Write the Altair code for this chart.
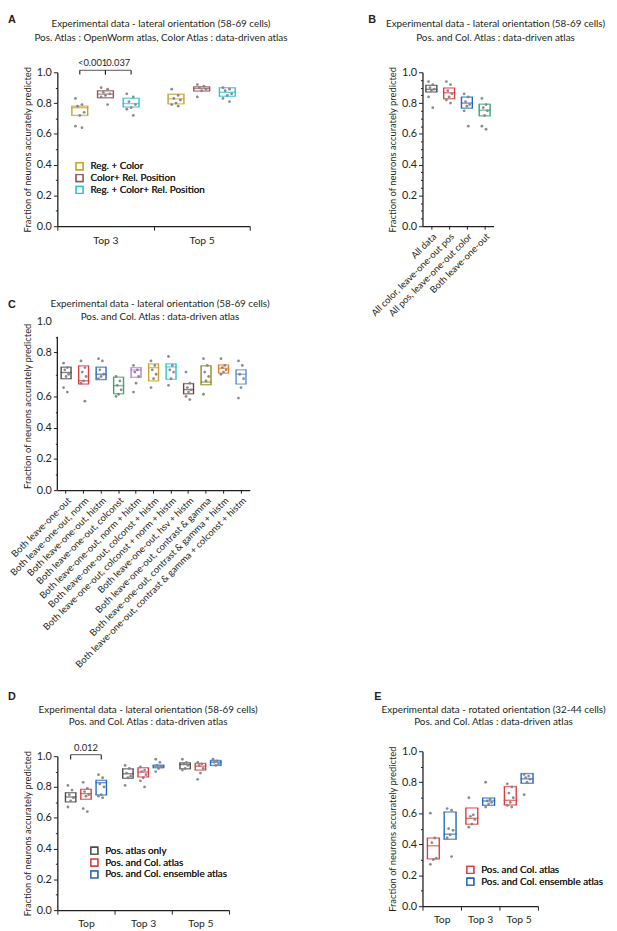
import altair as alt
import pandas as pd

FONT = "Lato"
INK = "#231f20"
DOTC = "#808080"
YTITLE = "Fraction of neurons accurately predicted"

# ---------------- Panel A ----------------
A_TITLE = ["Experimental data - lateral orientation (58-69 cells)",
           "Pos. Atlas : OpenWorm atlas, Color Atlas : data-driven atlas"]
A_CATS = ["Top 3", "Top 5"]
A_GROUPS = ["Reg. + Color", "Color+ Rel. Position", "Reg. + Color+ Rel. Position"]
A_COLORS = ["#c9a227", "#8b5a5c", "#2cc3d3"]
A_Q1 = [[0.720, 0.835, 0.774], [0.795, 0.878, 0.844]]
A_MED = [[0.770, 0.858, 0.797], [0.827, 0.895, 0.870]]
A_Q3 = [[0.780, 0.880, 0.831], [0.857, 0.906, 0.900]]
A_DOTS_TOP3 = [[0.83, 0.79, 0.78, 0.74, 0.72, 0.65, 0.64],
               [0.90, 0.89, 0.87, 0.86, 0.85, 0.84, 0.79],
               [0.86, 0.84, 0.81, 0.79, 0.77, 0.76, 0.72]]
A_DOTS_TOP5 = [[0.89, 0.85, 0.83, 0.82, 0.80, 0.79, 0.78],
               [0.92, 0.91, 0.90, 0.89, 0.88, 0.84],
               [0.90, 0.89, 0.88, 0.86, 0.85, 0.83, 0.81]]
A_BR_CAT = ["Top 3", "Top 3"]
A_BR_G1 = [0, 1]
A_BR_G2 = [1, 2]
A_BR_P = ["<0.001", "0.037"]

# ---------------- Panel B ----------------
B_TITLE = ["Experimental data - lateral orientation (58-69 cells)",
           "Pos.  and Col. Atlas : data-driven atlas"]
B_CATS = ["All data", "All color, leave-one-out pos", "All pos, leave-one-out color", "Both leave-one-out"]
B_COLORS = ["#4d4d4d", "#e03c3f", "#2266c4", "#2fa86a"]
B_Q1 = [0.872, 0.828, 0.767, 0.717]
B_MED = [0.889, 0.867, 0.800, 0.754]
B_Q3 = [0.915, 0.898, 0.839, 0.793]
B_DOTS = [[0.94, 0.92, 0.90, 0.89, 0.88, 0.84, 0.77],
          [0.94, 0.92, 0.88, 0.86, 0.84, 0.82, 0.80],
          [0.86, 0.84, 0.81, 0.79, 0.78, 0.75, 0.65],
          [0.83, 0.79, 0.77, 0.75, 0.72, 0.65, 0.63]]

# ---------------- Panel C ----------------
C_TITLE = ["Experimental data - lateral orientation (58-69 cells)",
           "Pos.  and Col. Atlas : data-driven atlas"]
C_CATS = ["Both leave-one-out", "Both leave-one-out, norm", "Both leave-one-out, histm",
          "Both leave-one-out, colconst", "Both leave-one-out, norm + histm",
          "Both leave-one-out, colconst + histm", "Both leave-one-out, colconst + norm + histm",
          "Both leave-one-out, hsv + histm", "Both leave-one-out, contrast & gamma",
          "Both leave-one-out, contrast & gamma + histm",
          "Both leave-one-out, contrast & gamma + colconst + histm"]
C_COLORS = ["#4d4d4d", "#e03c3f", "#2266c4", "#2fa86a", "#b57be0", "#c9a227",
            "#2cc3d3", "#6e4343", "#8c8a1c", "#f07a22", "#5a8fd4"]
C_Q1 = [0.680, 0.656, 0.676, 0.612, 0.686, 0.670, 0.677, 0.612, 0.653, 0.705, 0.656]
C_MED = [0.708, 0.671, 0.700, 0.649, 0.719, 0.730, 0.733, 0.631, 0.665, 0.727, 0.700]
C_Q3 = [0.732, 0.738, 0.732, 0.687, 0.730, 0.747, 0.747, 0.658, 0.738, 0.742, 0.720]
C_DOTS = [[0.75, 0.73, 0.72, 0.70, 0.69, 0.64, 0.62],
          [0.76, 0.73, 0.71, 0.69, 0.67, 0.66, 0.57],
          [0.77, 0.76, 0.72, 0.70, 0.69, 0.68],
          [0.69, 0.67, 0.65, 0.63, 0.61, 0.60],
          [0.74, 0.72, 0.71, 0.69, 0.66, 0.62],
          [0.76, 0.74, 0.72, 0.70, 0.68, 0.64],
          [0.78, 0.74, 0.72, 0.71, 0.68, 0.65],
          [0.71, 0.66, 0.64, 0.63, 0.62, 0.60, 0.58],
          [0.77, 0.74, 0.71, 0.69, 0.67, 0.61],
          [0.77, 0.74, 0.73, 0.72, 0.71, 0.70],
          [0.76, 0.74, 0.70, 0.68, 0.64, 0.59]]

# ---------------- Panel D ----------------
D_TITLE = ["Experimental data - lateral orientation (58-69 cells)",
           "Pos. and Col. Atlas : data-driven atlas"]
D_CATS = ["Top", "Top 3", "Top 5"]
D_GROUPS = ["Pos. atlas only", "Pos. and Col. atlas", "Pos. and Col. ensemble atlas"]
D_COLORS = ["#4d4d4d", "#e03c3f", "#2266c4"]
D_Q1 = [[0.703, 0.720, 0.748], [0.856, 0.865, 0.925], [0.918, 0.910, 0.940]]
D_MED = [[0.735, 0.757, 0.828], [0.886, 0.897, 0.935], [0.946, 0.935, 0.961]]
D_Q3 = [[0.763, 0.785, 0.843], [0.918, 0.925, 0.942], [0.957, 0.953, 0.972]]
D_DOTS_TOP = [[0.81, 0.78, 0.75, 0.73, 0.71, 0.67],
              [0.83, 0.79, 0.77, 0.75, 0.74, 0.66, 0.64],
              [0.88, 0.86, 0.82, 0.80, 0.75, 0.74, 0.73]]
D_DOTS_TOP3 = [[0.94, 0.92, 0.89, 0.87, 0.86, 0.81],
               [0.93, 0.91, 0.90, 0.88, 0.86, 0.84, 0.80],
               [0.98, 0.96, 0.94, 0.93, 0.92, 0.90]]
D_DOTS_TOP5 = [[0.98, 0.96, 0.95, 0.94, 0.92, 0.91],
               [0.96, 0.95, 0.94, 0.92, 0.89, 0.85],
               [0.98, 0.97, 0.96, 0.95, 0.94]]
D_BR_CAT = ["Top"]
D_BR_G1 = [0]
D_BR_G2 = [2]
D_BR_P = ["0.012"]

# ---------------- Panel E ----------------
E_TITLE = ["Experimental data - rotated orientation (32-44 cells)",
           "Pos. and Col. Atlas : data-driven atlas"]
E_CATS = ["Top", "Top 3", "Top 5"]
E_GROUPS = ["Pos. and Col. atlas", "Pos. and Col. ensemble atlas"]
E_COLORS = ["#e03c3f", "#2266c4"]
E_Q1 = [[0.305, 0.432], [0.529, 0.651], [0.653, 0.793]]
E_MED = [[0.390, 0.465], [0.567, 0.679], [0.683, 0.822]]
E_Q3 = [[0.440, 0.608], [0.634, 0.698], [0.772, 0.856]]
E_DOTS_TOP = [[0.60, 0.44, 0.41, 0.31, 0.30, 0.27],
              [0.63, 0.62, 0.50, 0.49, 0.46, 0.44, 0.32]]
E_DOTS_TOP3 = [[0.70, 0.59, 0.58, 0.56, 0.53, 0.51],
               [0.80, 0.69, 0.68, 0.67, 0.66, 0.64]]
E_DOTS_TOP5 = [[0.79, 0.77, 0.73, 0.70, 0.67, 0.65, 0.64],
               [0.85, 0.84, 0.83, 0.82, 0.80, 0.72]]


def grouped_tables(cats, groups, q1, med, q3, dots):
    brow, drow = [], []
    for ci, c in enumerate(cats):
        for gi, g in enumerate(groups):
            brow.append({"cat": c, "grp": g, "g": gi, "lo": q1[ci][gi], "med": med[ci][gi], "hi": q3[ci][gi]})
            for i, v in enumerate(dots[ci][gi]):
                drow.append({"cat": c, "grp": g, "g": gi, "i": i, "v": v})
    return pd.DataFrame(brow), pd.DataFrame(drow)


def single_tables(cats, q1, med, q3, dots):
    brow, drow = [], []
    for ci, c in enumerate(cats):
        brow.append({"cat": c, "grp": c, "g": 0, "lo": q1[ci], "med": med[ci], "hi": q3[ci]})
        for i, v in enumerate(dots[ci]):
            drow.append({"cat": c, "grp": c, "g": 0, "i": i, "v": v})
    return pd.DataFrame(brow), pd.DataFrame(drow)


def y_axis(div, major, domain=True, hide_top=False):
    vals = [round(k / div, 4) for k in range(div + 1)]
    test = f"round(datum.value*{div}) % {major} == 0"
    kw = dict(values=vals,
              labelExpr=f"({test}) ? format(datum.value, '.1f') : ''",
              tickSize={"condition": {"test": test, "value": 4}, "value": 2},
              labelOverlap=False, labelFontSize=11,
              domain=domain, title=YTITLE)
    if hide_top:
        kw["tickOpacity"] = {"condition": {"test": "datum.value > 0.95", "value": 0}, "value": 1}
    return alt.Axis(**kw)


def text_layer(txt, x, y, **kw):
    return alt.Chart(pd.DataFrame({"t": [txt]})).mark_text(**kw).encode(
        text="t:N", x=alt.value(x), y=alt.value(y))


def title_layers(lines, cx, y1, y2, letter, lx, ly):
    return [
        text_layer(lines[0], cx, y1, font=FONT, fontSize=10, color=INK, align="center", baseline="middle"),
        text_layer(lines[1], cx, y2, font=FONT, fontSize=10, color=INK, align="center", baseline="middle"),
        text_layer(letter, lx, ly, font="Liberation Sans", fontSize=11, fontWeight="bold", color=INK,
                   align="left", baseline="top"),
    ]


def panel(box_df, dot_df, cats, grp_domain, colors, W, H, yscale, yaxis, xaxis,
          ngroups, gap, boxw, jit, legend=None, extra=None, brackets=None):
    band = W / len(cats)
    center = f"({band / 2} + (datum.g - {(ngroups - 1) / 2}) * {gap})"
    xo = alt.Scale(domain=[0, band], range=[0, band], nice=False, zero=False)
    X = alt.X("cat:N", sort=cats, scale=alt.Scale(paddingInner=0, paddingOuter=0), axis=xaxis, title=None)

    def Y(field):
        return alt.Y(field, type="quantitative", scale=yscale, axis=yaxis, title=YTITLE)

    stroke = alt.Stroke("grp:N", scale=alt.Scale(domain=grp_domain, range=colors), legend=legend)
    fill = alt.Color("grp:N", scale=alt.Scale(domain=grp_domain, range=colors), legend=None)

    boxes = alt.Chart(box_df).transform_calculate(
        oc=center, ol=f"{center} - {boxw / 2}", orr=f"{center} + {boxw / 2}")
    left = boxes.mark_rule(strokeWidth=1.4).encode(
        x=X, xOffset=alt.XOffset("ol:Q", scale=xo), y=Y("lo"), y2=alt.Y2("hi"), stroke=stroke)
    right = boxes.mark_rule(strokeWidth=1.4).encode(
        x=X, xOffset=alt.XOffset("orr:Q", scale=xo), y=Y("lo"), y2=alt.Y2("hi"), stroke=stroke)
    edges = boxes.transform_fold(["lo", "med", "hi"], as_=["k", "val"]).mark_tick(
        orient="horizontal", size=boxw + 1.4, thickness=1.4).encode(
        x=X, xOffset=alt.XOffset("oc:Q", scale=xo), y=Y("val:Q"), color=fill)
    dots = alt.Chart(dot_df).transform_calculate(
        od=f"{center} + ((datum.i * 3) % 5 - 2) * {jit}").mark_circle(
        size=8, color=DOTC, opacity=0.9).encode(
        x=X, xOffset=alt.XOffset("od:Q", scale=xo), y=Y("v:Q"))
    layers = [left, right, edges, dots]

    if brackets is not None:
        br_df, br_top, br_bot, br_size = brackets
        br = alt.Chart(br_df).transform_calculate(
            om=f"{band / 2} + ((datum.g1 + datum.g2) / 2 - {(ngroups - 1) / 2}) * {gap}",
            oa=f"{band / 2} + (datum.g1 - {(ngroups - 1) / 2}) * {gap}",
            ob=f"{band / 2} + (datum.g2 - {(ngroups - 1) / 2}) * {gap}",
            yt=f"{br_top}", yb=f"{br_bot}")
        layers += [
            br.mark_tick(orient="horizontal", size=br_size, thickness=1.1, color=INK).encode(
                x=X, xOffset=alt.XOffset("om:Q", scale=xo), y=Y("yt:Q")),
            br.mark_rule(strokeWidth=1.1, color=INK).encode(
                x=X, xOffset=alt.XOffset("oa:Q", scale=xo), y=Y("yt:Q"), y2=alt.Y2("yb:Q")),
            br.mark_rule(strokeWidth=1.1, color=INK).encode(
                x=X, xOffset=alt.XOffset("ob:Q", scale=xo), y=Y("yt:Q"), y2=alt.Y2("yb:Q")),
            br.mark_text(font=FONT, fontSize=9.5, color=INK, baseline="bottom", dy=-2).encode(
                x=X, xOffset=alt.XOffset("om:Q", scale=xo), y=Y("yt:Q"), text="p:N"),
        ]
    if extra:
        layers += extra
    return alt.layer(*layers).properties(width=W, height=H).resolve_scale(
        color="independent", stroke="independent")


def band_axis():
    return alt.Axis(tickBand="extent", labelAngle=0, tickSize=4, labelPadding=5, labelFontSize=10.5)


def leg(x, y):
    return alt.Legend(orient="none", legendX=x, legendY=y, title=None, symbolType="square",
                      symbolSize=49, symbolStrokeWidth=1.4, symbolFillColor="white",
                      labelFont=FONT, labelFontSize=10, labelColor=INK, labelOffset=6,
                      rowPadding=-2.1, padding=0)


# ---- A ----
a_box, a_dot = grouped_tables(A_CATS, A_GROUPS, A_Q1, A_MED, A_Q3, [A_DOTS_TOP3, A_DOTS_TOP5])
a_br = pd.DataFrame({"cat": A_BR_CAT, "g1": A_BR_G1, "g2": A_BR_G2, "p": A_BR_P})
chart_a = panel(a_box, a_dot, A_CATS, A_GROUPS, A_COLORS, 195, 156,
                alt.Scale(domain=[0, 1], nice=False), y_axis(10, 2), band_axis(),
                3, 26, 16, 2.2, legend=leg(17.5, 90.2),
                extra=title_layers(A_TITLE, 105, -49, -35, "A", -50, -59),
                brackets=(a_br, 1.013, 0.985, 26))

# ---- B ----
b_box, b_dot = single_tables(B_CATS, B_Q1, B_MED, B_Q3, B_DOTS)
chart_b = panel(b_box, b_dot, B_CATS, B_CATS, B_COLORS, 72, 156,
                alt.Scale(domain=[0, 1], nice=False), y_axis(20, 4),
                alt.Axis(labelAngle=315, labelFontSize=9.5, tickSize=3, labelPadding=2, labelLimit=0),
                1, 0, 11, 1.4,
                extra=title_layers(B_TITLE, 74, -49, -35, "B", -55, -59))

# ---- C ----
c_box, c_dot = single_tables(C_CATS, C_Q1, C_MED, C_Q3, C_DOTS)
c_scale = alt.Scale(domain=[0, 0.6, 0.8, 1.0], range=[171, 76, 31, 0], nice=False, zero=False)
c_axis = y_axis(10, 2, domain=False, hide_top=True)
c_domain_line = alt.Chart(pd.DataFrame({"t": [0]})).mark_rule(color=INK, strokeWidth=1.3).encode(
    x=alt.value(0), y=alt.YDatum(0.0, scale=c_scale, axis=c_axis, title=YTITLE), y2=alt.datum(0.9))
chart_c = panel(c_box, c_dot, C_CATS, C_CATS, C_COLORS, 195, 171,
                c_scale, c_axis,
                alt.Axis(labelAngle=315, labelFontSize=9.5, tickSize=3, labelPadding=2, labelLimit=0),
                1, 0, 10, 1.3,
                extra=[c_domain_line] + title_layers(C_TITLE, 104, -18, -4, "C", -50, -23))

# ---- D ----
d_box, d_dot = grouped_tables(D_CATS, D_GROUPS, D_Q1, D_MED, D_Q3, [D_DOTS_TOP, D_DOTS_TOP3, D_DOTS_TOP5])
d_br = pd.DataFrame({"cat": D_BR_CAT, "g1": D_BR_G1, "g2": D_BR_G2, "p": D_BR_P})
chart_d = panel(d_box, d_dot, D_CATS, D_GROUPS, D_COLORS, 174, 329,
                alt.Scale(domain=[0, 1], range=[329, 173], nice=False), y_axis(10, 2), band_axis(),
                3, 15.5, 10.5, 1.4, legend=leg(32.5, 263.8),
                extra=title_layers(D_TITLE, 92, 126, 138, "D", -50, 107),
                brackets=(d_br, 1.01, 0.978, 31))

# ---- E ----
e_box, e_dot = grouped_tables(E_CATS, E_GROUPS, E_Q1, E_MED, E_Q3, [E_DOTS_TOP, E_DOTS_TOP3, E_DOTS_TOP5])
chart_e = panel(e_box, e_dot, E_CATS, E_GROUPS, E_COLORS, 117, 325,
                alt.Scale(domain=[0, 1], range=[325, 168], nice=False), y_axis(10, 2), band_axis(),
                2, 17, 12, 1.5, legend=leg(43.5, 283.2),
                extra=title_layers(E_TITLE, 72, 126, 138, "E", -49, 107))

blank = alt.Chart(pd.DataFrame({"v": [0]})).mark_point(opacity=0).encode(
    x=alt.X("v:Q", axis=None), y=alt.Y("v:Q", axis=None)).properties(width=1, height=1)

chart = alt.concat(chart_a, chart_b, chart_c, blank, chart_d, chart_e, columns=2,
                   spacing={"row": 96.5, "column": 175}, bounds="flush", align="each").resolve_scale(
    color="independent", stroke="independent").properties(
    autosize=alt.AutoSizeParams(type="none"),
    padding={"left": 50, "top": 59, "right": 559, "bottom": 864}).configure(
    font=FONT).configure_view(strokeWidth=0).configure_axis(
    domainColor=INK, domainWidth=1.3, tickColor=INK, tickWidth=1, labelColor=INK, labelFont=FONT,
    labelFontSize=10.5, titleFont=FONT, titleFontSize=9.5, titleFontWeight="normal", titleColor=INK,
    grid=False, labelPadding=2, titlePadding=4, labelOverlap=False)

chart.save("out.html", embed_options={"renderer": "svg", "actions": False})
